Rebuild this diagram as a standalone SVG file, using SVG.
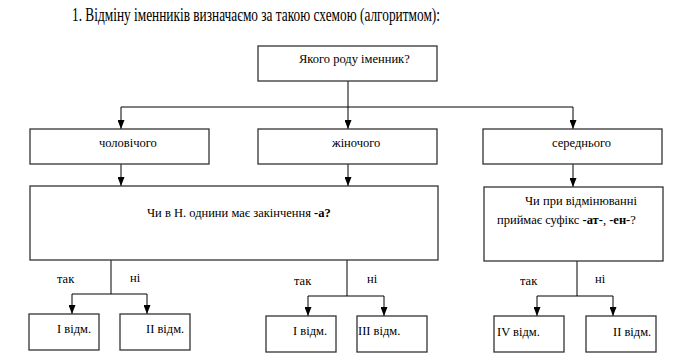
<svg xmlns="http://www.w3.org/2000/svg" width="693" height="363" viewBox="0 0 693 363">
<style>
.box{fill:#fff;stroke:#333;stroke-width:1.3}
.ln{fill:none;stroke:#000;stroke-width:1}
text{font-family:"Liberation Serif","Times New Roman",serif;font-size:12.5px;fill:#000}
.title{font-size:18.5px}
.b{font-weight:bold}
</style>
<defs>
<marker id="ar" viewBox="0 0 9 7" refX="9" refY="3.5" markerWidth="9" markerHeight="7" markerUnits="userSpaceOnUse" orient="auto">
<path d="M0,0 L9,3.5 L0,7 Z" fill="#000"/>
</marker>
</defs>
<rect width="693" height="363" fill="#fff"/>
<text class="title" x="72" y="21" textLength="368" lengthAdjust="spacingAndGlyphs">1. Відміну іменників визначаємо за такою схемою (алгоритмом):</text>

<g id="connectors">
<path class="ln" d="M348,81 V107"/>
<path class="ln" d="M121,107 H573"/>
<path class="ln" d="M121,107 V129" marker-end="url(#ar)"/>
<path class="ln" d="M348,107 V129" marker-end="url(#ar)"/>
<path class="ln" d="M573,107 V129" marker-end="url(#ar)"/>
<path class="ln" d="M121,164 V186" marker-end="url(#ar)"/>
<path class="ln" d="M348,164 V186" marker-end="url(#ar)"/>
<path class="ln" d="M573,164 V187" marker-end="url(#ar)"/>
<path class="ln" d="M111,260 V294 M72,294 H147"/>
<path class="ln" d="M72,294 V314" marker-end="url(#ar)"/>
<path class="ln" d="M147,294 V314" marker-end="url(#ar)"/>
<path class="ln" d="M347,260 V296 M308,296 H384"/>
<path class="ln" d="M308,296 V316" marker-end="url(#ar)"/>
<path class="ln" d="M384,296 V316" marker-end="url(#ar)"/>
<path class="ln" d="M577,261 V296 M537,296 H613"/>
<path class="ln" d="M537,296 V316" marker-end="url(#ar)"/>
<path class="ln" d="M613,296 V316" marker-end="url(#ar)"/>
<text x="57" y="283">так</text>
<text x="130" y="282">ні</text>
<text x="294" y="285">так</text>
<text x="367" y="283">ні</text>
<text x="520" y="285">так</text>
<text x="595" y="283">ні</text>
</g>

<g id="root">
<rect class="box" x="258" y="46" width="179" height="35"/>
<text x="299" y="63">Якого роду іменник?</text>
</g>
<g id="masc">
<rect class="box" x="30" y="129" width="179" height="35"/>
<text x="99" y="147">чоловічого</text>
</g>
<g id="fem">
<rect class="box" x="258" y="129" width="179" height="35"/>
<text x="332" y="147">жіночого</text>
</g>
<g id="neut">
<rect class="box" x="483" y="129" width="179" height="35"/>
<text x="552" y="147">середнього</text>
</g>
<g id="q1">
<rect class="box" x="30" y="186" width="408" height="74"/>
<text x="147" y="217">Чи в Н. однини має закінчення <tspan class="b">-а?</tspan></text>
</g>
<g id="q2">
<rect class="box" x="484" y="187" width="179" height="74"/>
<text x="525" y="205">Чи при відмінюванні</text>
<text x="497" y="224">приймає суфікс <tspan class="b">-ат-</tspan>, <tspan class="b">-ен-</tspan>?</text>
</g>
<g id="m1">
<rect class="box" x="29" y="314" width="70" height="36"/>
<text x="57" y="333">I відм.</text>
</g>
<g id="m2">
<rect class="box" x="120" y="314" width="70" height="36"/>
<text x="146" y="333">II відм.</text>
</g>
<g id="f1">
<rect class="box" x="266" y="316" width="70" height="36"/>
<text x="293" y="335">I відм.</text>
</g>
<g id="f3">
<rect class="box" x="357" y="316" width="70" height="36"/>
<text x="358" y="335">III відм.</text>
</g>
<g id="n4">
<rect class="box" x="494" y="316" width="70" height="36"/>
<text x="497" y="336">IV відм.</text>
</g>
<g id="n2">
<rect class="box" x="586" y="316" width="70" height="36"/>
<text x="613" y="336">II відм.</text>
</g>
</svg>
